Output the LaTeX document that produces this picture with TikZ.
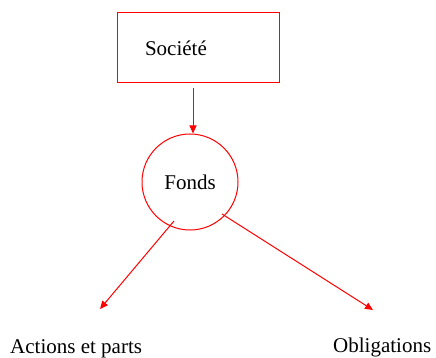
\documentclass[tikz,border=0pt]{standalone}
\usepackage{fontspec}
\setmainfont{Liberation Serif}
\usetikzlibrary{arrows.meta}
\begin{document}
\begin{tikzpicture}[x=1pt,y=-1pt,
  lbl/.style={font=\fontsize{21}{25}\selectfont, inner sep=0pt},
  shp/.style={draw=red, line width=1pt},
  arr/.style={draw=red, line width=1pt, -{Triangle[length=8pt,width=7pt]}}]
\useasboundingbox (0,0) rectangle (436,358);
\node[shp, lbl, rectangle, minimum width=162pt, minimum height=70pt, inner xsep=28pt, text width=106pt, align=left] (soc) at (198,48) {Société};
\node[shp, lbl, circle, minimum size=96pt] (fonds) at (190,182) {Fonds};
\coordinate (s1) at (193,88);
\coordinate (f1) at (174,221);
\coordinate (f2) at (222,214);
\coordinate (a1) at (100,309);
\coordinate (a2) at (373,310);
\draw[arr] (s1) -- (fonds.north -| s1);
\draw[arr] (f1) -- (a1);
\draw[arr] (f2) -- (a2);
\node[lbl, anchor=base west] (act) at (10,353.5) {Actions et parts};
\node[lbl, anchor=base west] (obl) at (333,352) {Obligations};
\end{tikzpicture}
\end{document}
